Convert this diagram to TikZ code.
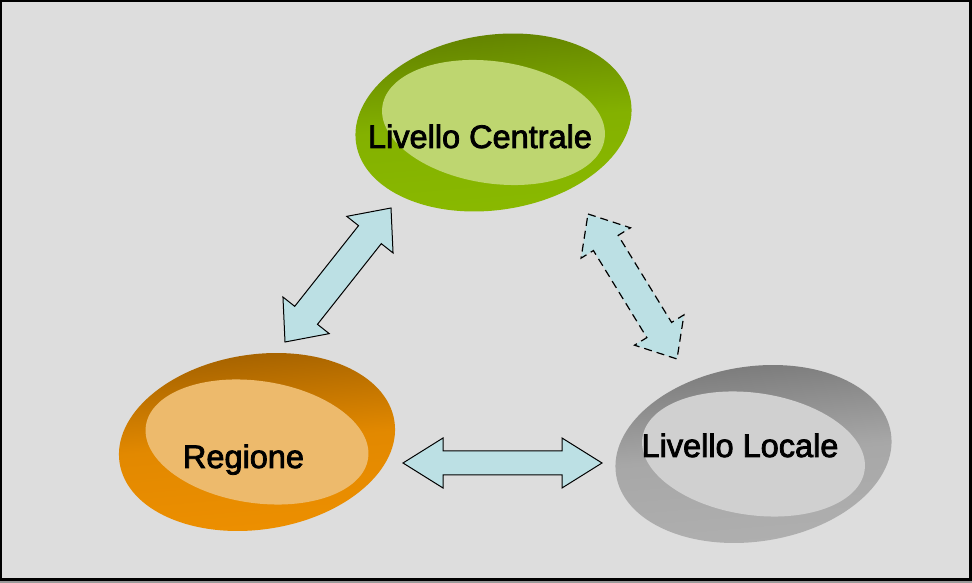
\documentclass[tikz,border=0pt]{standalone}
\usepackage{fontspec}
\setmainfont{Liberation Sans}
\newfontfamily\lblfont{Liberation Sans}[FakeBold=2.5]
\usetikzlibrary{calc}
\definecolor{bg}{RGB}{221,221,221}
\definecolor{gdark}{RGB}{95,125,0}
\definecolor{glight}{RGB}{138,186,0}
\definecolor{ginner}{RGB}{190,214,112}
\definecolor{odark}{RGB}{158,94,0}
\definecolor{olight}{RGB}{238,144,0}
\definecolor{oinner}{RGB}{237,186,108}
\definecolor{ydark}{RGB}{118,118,118}
\definecolor{ylight}{RGB}{176,176,176}
\definecolor{yinner}{RGB}{208,208,208}
\definecolor{afill}{RGB}{188,224,228}
\newcommand\blkarrow[6][]{%
 \draw[blk,#1] (#2) -- ($(#2)!#4!(#3)!#5!90:(#3)$) -- ($(#2)!#4!(#3)!#6!90:(#3)$)
 -- ($(#3)!#4!(#2)!#6!-90:(#2)$) -- ($(#3)!#4!(#2)!#5!-90:(#2)$) -- (#3)
 -- ($(#3)!#4!(#2)!#5!90:(#2)$) -- ($(#3)!#4!(#2)!#6!90:(#2)$)
 -- ($(#2)!#4!(#3)!#6!-90:(#3)$) -- ($(#2)!#4!(#3)!#5!-90:(#3)$) -- cycle;}
% ring: #1 centre x, #2 centre y, #3 dark, #4 light, #5 inner colour
\newcommand\twistring[5]{%
 \shade[top color=#3, bottom color=#4, middle color=#4!85!#3, shading angle=5, rotate around={8.6:(#1,#2)}] (#1,#2) ellipse [x radius=139, y radius=87.5];
 \fill[#5, rotate around={-8.4:(#1,#2)}] (#1,#2) ellipse [x radius=112.3, y radius=61];}
\tikzset{
 blk/.style={fill=afill, draw=black, line width=1pt, line join=miter},
 dashblk/.style={dash pattern=on 8pt off 5pt, line width=1.2pt},
 lbl/.style={anchor=base, inner sep=0pt, font=\lblfont\fontsize{32.5}{39}\selectfont}
}
\begin{document}
\begin{tikzpicture}[x=1pt,y=1pt]
\useasboundingbox (0,0) rectangle (972,583);
% frame
\fill[gray!80] (0,0) rectangle (972,583);
\fill[black] (0,2) rectangle (972,583);
\fill[bg] (2,5) rectangle (969,581);
% rings
\twistring{493.5}{460.5}{gdark}{glight}{ginner}
\twistring{257}{141}{odark}{olight}{oinner}
\twistring{753.5}{129}{ydark}{ylight}{yinner}
% labels
\node[lbl] (lc) at (480,435) {Livello Centrale};
\node[lbl] (reg) at (243.5,115) {Regione};
\node[lbl] (ll) at (740,126) {Livello Locale};
% arrow end points
\coordinate (h1) at (403,120);
\coordinate (h2) at (602,120);
\coordinate (d1) at (391,375);
\coordinate (d2) at (285,241);
\coordinate (e1) at (588,369);
\coordinate (e2) at (677,224);
\blkarrow{h1}{h2}{40pt}{25pt}{12pt}
\blkarrow{d1}{d2}{34pt}{29.5pt}{14.5pt}
\blkarrow[dashblk]{e1}{e2}{34pt}{29pt}{14.5pt}
\end{tikzpicture}
\end{document}
